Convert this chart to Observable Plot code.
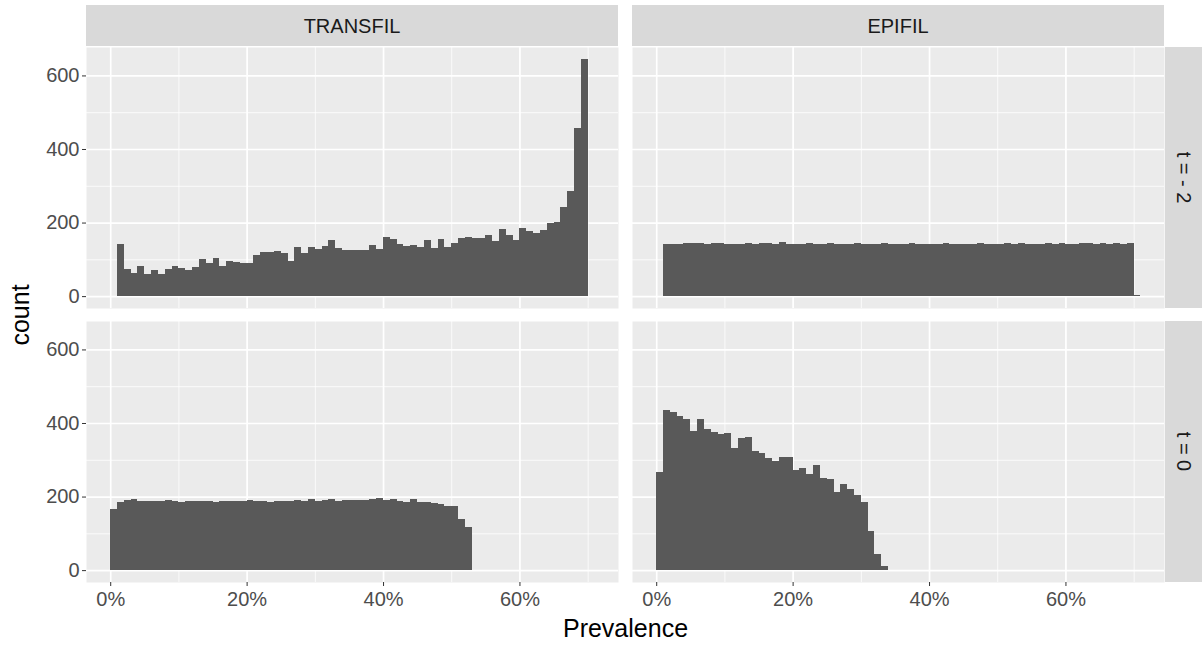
<!DOCTYPE html>
<html>
<head>
<meta charset="utf-8">
<script src="https://cdn.jsdelivr.net/npm/d3@7"></script>
<script src="https://cdn.jsdelivr.net/npm/@observablehq/plot@0.6"></script>
<style>
  html, body { margin: 0; padding: 0; background: #ffffff; }
  #chart svg { display: block; }
</style>
</head>
<body>
<div id="chart"></div>
<script>
// ---------------- data ----------------
const models = ["TRANSFIL", "EPIFIL"];
const times = ["t = - 2", "t = 0"];
const binWidth = 0.01; // each histogram bin spans 1% prevalence

// TRANSFIL, t = -2 : bins starting at 1%
const transfilT2Start = 0.01;
const transfilT2 = [142,74,62,81,59,70,61,74,81,76,
  72,78,100,91,103,83,96,94,90,90,
  113,120,119,123,118,96,133,117,133,128,
  135,153,130,125,126,126,126,138,128,161,
  154,141,137,139,133,153,130,154,134,145,
  158,162,158,158,167,149,182,167,153,185,
  176,172,180,198,201,242,287,456,646];

// EPIFIL, t = -2 : bins starting at 1%
const epifilT2Start = 0.01;
const epifilT2 = [143,142,143,144,144,145,143,144,145,143,
  142,143,144,143,144,145,143,147,142,143,
  143,144,143,141,144,143,142,143,144,142,
  143,143,144,142,143,142,144,143,143,142,
  143,144,143,142,143,143,144,143,142,143,
  144,143,144,143,142,143,144,143,144,143,
  142,144,145,143,144,142,144,143,144,2];

// TRANSFIL, t = 0 : bins starting at 0%
const transfilT0Start = 0.0;
const transfilT0 = [166,184,190,193,189,189,187,188,191,189,
  186,187,187,188,189,186,187,187,188,189,
  190,188,187,186,187,189,189,191,189,193,
  189,190,193,189,190,190,190,191,192,195,
  190,193,189,185,193,186,185,183,181,175,
  174,140,118];

// EPIFIL, t = 0 : bins starting at 0%
const epifilT0Start = 0.0;
const epifilT0 = [268,434,431,420,412,378,410,384,375,369,
  374,332,360,362,324,319,304,298,307,307,
  271,277,261,285,251,248,213,235,221,203,
  184,107,44,10];

const xTicks = [0, 0.2, 0.4, 0.6];
const xMinor = [0.1, 0.3, 0.5, 0.7];
const yTicks = [0, 200, 400, 600];
const yMinor = [100, 300, 500];
const xDomain = [-0.0355, 0.7445];
const yDomain = [-32.3, 677.3];

// ---------------- table ----------------
function toBins(model, time, start, counts) {
  return counts.map((c, i) => {
    const x1 = Math.round((start + i * binWidth) * 1e6) / 1e6;
    const x2 = Math.round((start + (i + 1) * binWidth) * 1e6) / 1e6;
    return { model, time, x1, x2, count: c };
  });
}
const bins = [
  ...toBins("TRANSFIL", "t = - 2", transfilT2Start, transfilT2),
  ...toBins("EPIFIL", "t = - 2", epifilT2Start, epifilT2),
  ...toBins("TRANSFIL", "t = 0", transfilT0Start, transfilT0),
  ...toBins("EPIFIL", "t = 0", epifilT0Start, epifilT0)
];

// ---------------- chart ----------------
const W = 1202, H = 645;
const mL = 86, mR = 37, mT = 46, mB = 62;
const font = "'Liberation Sans', Arial, Helvetica, sans-serif";

const chart = Plot.plot({
  width: W,
  height: H,
  marginLeft: mL,
  marginRight: mR,
  marginTop: mT,
  marginBottom: mB,
  style: { fontFamily: font, fontSize: "20px", color: "#4D4D4D", background: "#ffffff" },
  fx: { domain: models, paddingInner: 0.0256, paddingOuter: 0, axis: null, label: null },
  fy: { domain: times, paddingInner: 0.0464, paddingOuter: 0, axis: null, label: null },
  x: { domain: xDomain, label: null },
  y: { domain: yDomain, label: null },
  marks: [
    Plot.frame({ fill: "#EBEBEB", stroke: "none" }),
    Plot.gridY(yMinor, { stroke: "#ffffff", strokeOpacity: 1, strokeWidth: 0.8 }),
    Plot.gridX(xMinor, { stroke: "#ffffff", strokeOpacity: 1, strokeWidth: 0.8 }),
    Plot.gridY(yTicks, { stroke: "#ffffff", strokeOpacity: 1, strokeWidth: 1.7 }),
    Plot.gridX(xTicks, { stroke: "#ffffff", strokeOpacity: 1, strokeWidth: 1.7 }),
    Plot.rect(bins, {
      x1: "x1", x2: "x2", y1: 0, y2: "count",
      fx: "model", fy: "time",
      fill: "#595959", inset: 0, shapeRendering: "crispEdges"
    }),
    Plot.axisY(yTicks, {
      anchor: "left", facetAnchor: "left", label: null,
      tickSize: 4, tickPadding: 3, stroke: "#333333", fill: "#4D4D4D",
      fontSize: 20, tickFormat: d => String(d)
    }),
    Plot.axisX(xTicks, {
      anchor: "bottom", facetAnchor: "bottom", label: null,
      tickSize: 4, tickPadding: 5, stroke: "#333333", fill: "#4D4D4D",
      fontSize: 20, tickFormat: d3.format(".0%")
    }),
    Plot.text(["count"], {
      facet: "super", frameAnchor: "left", dx: -66, rotate: -90,
      text: d => d, fill: "#000000", fontSize: 25, textAnchor: "middle"
    }),
    Plot.text(["Prevalence"], {
      facet: "super", frameAnchor: "bottom", dy: 54,
      text: d => d, fill: "#000000", fontSize: 25, textAnchor: "middle"
    })
  ]
});

// ---------------- facet strips (ggplot style) ----------------
const svg = d3.select(chart);
const fxS = chart.scale("fx");
const fyS = chart.scale("fy");
const strips = svg.append("g").attr("font-family", font);
models.forEach(m => {
  const x0 = fxS.apply(m), bw = fxS.bandwidth;
  strips.append("rect").attr("x", x0).attr("y", 5).attr("width", bw).attr("height", mT - 5)
    .attr("fill", "#D9D9D9");
  strips.append("text").attr("x", x0 + bw / 2).attr("y", 5 + (mT - 5) / 2)
    .attr("text-anchor", "middle").attr("dominant-baseline", "central")
    .attr("font-size", 20).attr("fill", "#1A1A1A").text(m);
});
times.forEach(t => {
  const y0 = fyS.apply(t), bh = fyS.bandwidth;
  const sx = W - mR;
  strips.append("rect").attr("x", sx).attr("y", y0).attr("width", mR).attr("height", bh)
    .attr("fill", "#D9D9D9");
  strips.append("text")
    .attr("transform", `translate(${sx + mR / 2},${y0 + bh / 2}) rotate(90)`)
    .attr("text-anchor", "middle").attr("dominant-baseline", "central")
    .attr("font-size", 20).attr("fill", "#1A1A1A").text(t);
});

document.getElementById("chart").appendChild(chart);
</script>
</body>
</html>
